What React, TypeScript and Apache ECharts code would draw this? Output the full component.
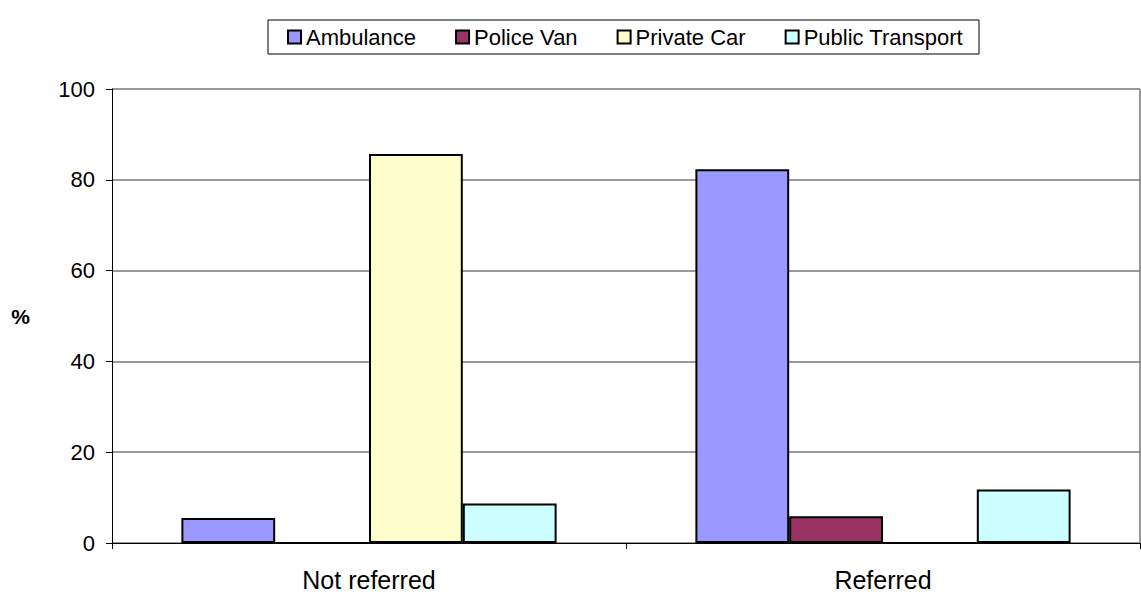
import React, { useEffect, useRef } from "react";
import * as echarts from "echarts";

const categories = ["Not referred", "Referred"];
const seriesNames = ["Ambulance", "Police Van", "Private Car", "Public Transport"];
const ambulance = [5.5, 82.3];
const policeVan = [0, 5.9];
const privateCar = [85.7, 0];
const publicTransport = [8.7, 11.8];
const seriesColors = ["#9999FF", "#993366", "#FFFFCC", "#CCFFFF"];
const yTicks = [0, 20, 40, 60, 80, 100];

const FONT = "Arial, 'Liberation Sans', sans-serif";

export default function App() {
  const ref = useRef<HTMLDivElement>(null);

  useEffect(() => {
    if (!ref.current) return;
    const chart = echarts.init(ref.current, null, { renderer: "svg" });
    const values = [ambulance, policeVan, privateCar, publicTransport];

    chart.setOption({
      animation: false,
      backgroundColor: "#ffffff",
      textStyle: { fontFamily: FONT },
      legend: {
        top: 20,
        left: 268,
        data: seriesNames,
        itemWidth: 13,
        itemHeight: 13,
        itemGap: 39,
        padding: [6, 16, 6, 19],
        borderColor: "#000000",
        borderWidth: 1,
        icon: "rect",
        textStyle: { fontFamily: FONT, fontSize: 22, color: "#000", padding: [0, 0, 0, 0] },
      },
      grid: { left: 112, right: 1, top: 89, bottom: 49, containLabel: false },
      xAxis: {
        type: "category",
        data: categories,
        axisLine: { lineStyle: { color: "#000", width: 1 } },
        axisTick: { show: true, alignWithLabel: false, length: 6, lineStyle: { color: "#000" } },
        axisLabel: { fontSize: 25, color: "#000", margin: 24, fontFamily: FONT },
      },
      yAxis: {
        type: "value",
        min: yTicks[0],
        max: yTicks[yTicks.length - 1],
        interval: 20,
        name: "%",
        nameLocation: "middle",
        nameRotate: 0,
        nameGap: 82,
        nameTextStyle: { fontSize: 21, fontWeight: "bold", color: "#000", fontFamily: FONT },
        axisLine: { show: true, lineStyle: { color: "#000", width: 1 } },
        axisTick: { show: true, length: 6, lineStyle: { color: "#000" } },
        axisLabel: { fontSize: 22, color: "#000", margin: 17, fontFamily: FONT },
        splitLine: { show: true, lineStyle: { color: "#777777", width: 1.5 } },
      },
      graphic: [
        {
          type: "line",
          shape: { x1: 1140, y1: 89, x2: 1140, y2: 543 },
          style: { stroke: "#777777", lineWidth: 1.5 },
        },
      ],
      series: seriesNames.map((name, i) => ({
        name,
        type: "bar",
        data: values[i],
        barGap: "0%",
        barCategoryGap: "27%",
        itemStyle: { color: seriesColors[i], borderColor: "#000", borderWidth: 2 },
      })),
    });

    return () => chart.dispose();
  }, []);

  return (
    <div
      ref={ref}
      style={{ width: 1141, height: 592, position: "absolute", left: 0, top: 0 }}
    />
  );
}
